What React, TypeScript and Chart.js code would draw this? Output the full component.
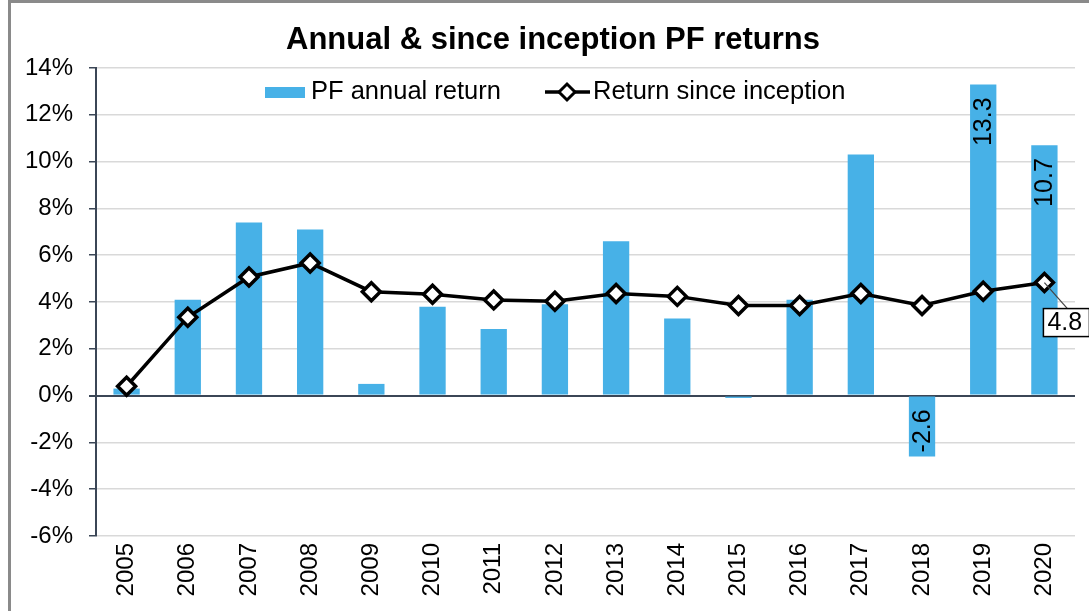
import React, { useEffect, useRef } from 'react';
import { Chart, registerables } from 'chart.js';

Chart.register(...registerables);

const years = ['2005', '2006', '2007', '2008', '2009', '2010', '2011', '2012', '2013', '2014', '2015', '2016', '2017', '2018', '2019', '2020'];
const annualReturn = [0.3, 4.1, 7.4, 7.1, 0.5, 3.8, 2.85, 3.9, 6.6, 3.3, -0.1, 4.1, 10.3, -2.6, 13.3, 10.7];
const sinceInception = [0.4, 3.35, 5.07, 5.67, 4.44, 4.33, 4.09, 4.03, 4.36, 4.24, 3.85, 3.85, 4.36, 3.85, 4.46, 4.83];
const labeledBarYears = ['2018', '2019', '2020'];
const labeledPointYears = ['2020'];
const yMin = -6;
const yMax = 14;
const yStep = 2;

const titleText = 'Annual & since inception PF returns';
const barLabel = 'PF annual return';
const lineLabel = 'Return since inception';

const FONT = '"Liberation Sans", Arial, sans-serif';
const BAR_COLOR = '#47b1e7';
const AXIS_COLOR = '#3b4656';
const GRID_COLOR = '#d9d9d9';

const overlayPlugin = {
  id: 'overlay',
  afterDraw(chart: any) {
    const ctx = chart.ctx;
    ctx.save();
    // Title
    ctx.fillStyle = '#000';
    ctx.font = `bold 31px ${FONT}`;
    ctx.textAlign = 'center';
    ctx.textBaseline = 'alphabetic';
    ctx.fillText(titleText, 553, 49);

    // Legend
    const ly = 92;
    ctx.font = `25.5px ${FONT}`;
    ctx.textBaseline = 'middle';
    ctx.textAlign = 'left';
    ctx.fillStyle = BAR_COLOR;
    ctx.fillRect(265, ly - 5, 40, 11);
    ctx.fillStyle = '#000';
    ctx.fillText(barLabel, 311, ly);
    ctx.strokeStyle = '#000';
    ctx.lineWidth = 3.5;
    ctx.beginPath();
    ctx.moveTo(545, ly);
    ctx.lineTo(590, ly);
    ctx.stroke();
    ctx.beginPath();
    ctx.moveTo(567 - 8, ly);
    ctx.lineTo(567, ly - 8);
    ctx.lineTo(567 + 8, ly);
    ctx.lineTo(567, ly + 8);
    ctx.closePath();
    ctx.fillStyle = '#fff';
    ctx.fill();
    ctx.lineWidth = 3;
    ctx.stroke();
    ctx.fillStyle = '#000';
    ctx.fillText(lineLabel, 593, ly);

    // Bar labels (rotated, inside end)
    const barMeta = chart.getDatasetMeta(1);
    const yScale = chart.scales.y;
    ctx.font = `25px ${FONT}`;
    ctx.fillStyle = '#000';
    labeledBarYears.forEach((yr) => {
      const i = years.indexOf(yr);
      const v = annualReturn[i];
      const bar = barMeta.data[i];
      const end = yScale.getPixelForValue(v);
      ctx.save();
      ctx.textBaseline = 'middle';
      if (v >= 0) {
        ctx.translate(bar.x + 1, end + 13);
        ctx.rotate(-Math.PI / 2);
        ctx.textAlign = 'right';
      } else {
        ctx.translate(bar.x + 1, end - 4);
        ctx.rotate(-Math.PI / 2);
        ctx.textAlign = 'left';
      }
      ctx.fillText(v.toFixed(1), 0, 0);
      ctx.restore();
    });

    // Point labels with leader line and box
    const lineMeta = chart.getDatasetMeta(0);
    labeledPointYears.forEach((yr) => {
      const i = years.indexOf(yr);
      const pt = lineMeta.data[i];
      const bx = pt.x - 1;
      const by = pt.y + 26;
      ctx.strokeStyle = '#444';
      ctx.lineWidth = 1.2;
      ctx.beginPath();
      ctx.moveTo(pt.x, pt.y);
      ctx.lineTo(bx + 24, by);
      ctx.stroke();
      ctx.fillStyle = '#fff';
      ctx.fillRect(bx, by, 46, 28);
      ctx.strokeStyle = '#000';
      ctx.lineWidth = 1.5;
      ctx.strokeRect(bx, by, 46, 28);
      ctx.fillStyle = '#000';
      ctx.font = `25px ${FONT}`;
      ctx.textAlign = 'left';
      ctx.textBaseline = 'middle';
      ctx.fillText(Math.floor(sinceInception[i] * 10 + 1e-9) / 10 + '', bx + 4, by + 15);
    });
    ctx.restore();
  },
};

export default function App() {
  const canvasRef = useRef<HTMLCanvasElement | null>(null);

  useEffect(() => {
    if (!canvasRef.current) return;
    const chart = new Chart(canvasRef.current, {
      type: 'bar',
      data: {
        labels: years,
        datasets: [
          {
            type: 'line',
            label: lineLabel,
            data: sinceInception,
            borderColor: '#000',
            borderWidth: 3.5,
            pointStyle: 'rectRot',
            pointRadius: 9,
            pointBackgroundColor: '#fff',
            pointBorderColor: '#000',
            pointBorderWidth: 3.5,
            tension: 0,
            order: 1,
          } as any,
          {
            type: 'bar',
            label: barLabel,
            data: annualReturn,
            backgroundColor: BAR_COLOR,
            barPercentage: 0.43,
            categoryPercentage: 1,
            order: 2,
          },
        ],
      },
      options: {
        animation: false,
        responsive: false,
        maintainAspectRatio: false,
        layout: { padding: { top: 68, left: 0, right: 14, bottom: 0 } },
        plugins: {
          legend: { display: false },
          title: { display: false },
          tooltip: { enabled: false },
        },
        scales: {
          x: {
            grid: { display: false, drawTicks: false },
            border: { display: false },
            ticks: {
              minRotation: 90,
              maxRotation: 90,
              padding: 7,
              color: '#000',
              font: { family: FONT, size: 24 },
            },
            afterFit(scale: any) {
              scale.height = 75;
            },
          },
          y: {
            min: yMin,
            max: yMax,
            ticks: {
              stepSize: yStep,
              padding: 16,
              color: '#000',
              font: { family: FONT, size: 24 },
              callback: (v: any) => `${v}%`,
            },
            grid: {
              color: (c: any) => (c.tick && c.tick.value === 0 ? AXIS_COLOR : GRID_COLOR),
              lineWidth: (c: any) => (c.tick && c.tick.value === 0 ? 2 : 1.5),
              tickColor: AXIS_COLOR,
              tickLength: 7,
            },
            border: { display: true, color: AXIS_COLOR, width: 2 },
            afterFit(scale: any) {
              scale.width = 96;
            },
          },
        },
      },
      plugins: [overlayPlugin],
    });
    return () => chart.destroy();
  }, []);

  return (
    <div style={{ position: 'fixed', left: 0, top: 0, width: 1089, height: 611, background: '#fff' }}>
      <canvas ref={canvasRef} width={1089} height={611} style={{ width: 1089, height: 611, display: 'block' }} />
      <div
        style={{
          position: 'absolute',
          left: 8,
          top: 0,
          width: 1081,
          height: 611,
          borderLeft: '3px solid #8a8a8a',
          borderTop: '3px solid #8a8a8a',
          boxSizing: 'border-box',
          pointerEvents: 'none',
        }}
      />
    </div>
  );
}
